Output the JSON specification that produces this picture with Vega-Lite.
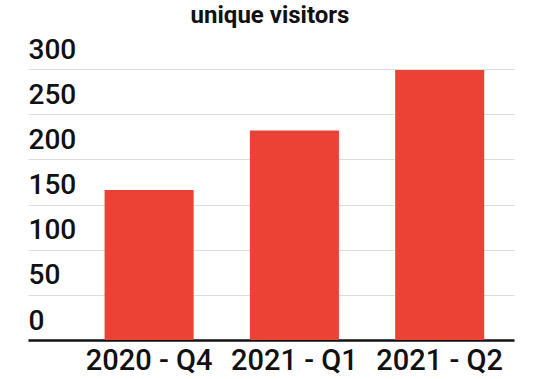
{
  "$schema": "https://vega.github.io/schema/vega-lite/v6.json",
  "autosize": "none",
  "width": 486,
  "height": 271,
  "padding": {"left": 28, "top": 69, "right": 25, "bottom": 39},
  "background": "white",
  "title": {
    "text": "unique visitors",
    "font": "Roboto",
    "fontSize": 24,
    "fontWeight": "bold",
    "color": "#111111",
    "anchor": "middle",
    "baseline": "alphabetic",
    "offset": -11,
    "dx": -1
  },
  "data": {
    "values": [
      {"quarter": "2020 - Q4", "visitors": 166},
      {"quarter": "2021 - Q1", "visitors": 232},
      {"quarter": "2021 - Q2", "visitors": 299}
    ]
  },
  "layer": [
    {
      "mark": {"type": "bar", "color": "#EA4335"},
      "encoding": {
        "x": {
          "field": "quarter",
          "type": "nominal",
          "sort": null,
          "scale": {"paddingInner": 0.387, "paddingOuter": 0.366, "align": 0.72},
          "axis": {
            "title": null,
            "labelAngle": 0,
            "labelFont": "Roboto",
            "labelFontSize": 29,
            "labelFontWeight": 500,
            "labelColor": "#111111",
            "labelPadding": 6,
            "ticks": false,
            "domainColor": "#111111",
            "domainWidth": 2.5,
            "grid": false
          }
        },
        "y": {
          "field": "visitors",
          "type": "quantitative",
          "scale": {"domain": [0, 300], "nice": false},
          "axis": {
            "title": null,
            "values": [0, 50, 100, 150, 200, 250, 300],
            "labelFont": "Roboto",
            "labelFontSize": 28,
            "labelFontWeight": 500,
            "labelColor": "#111111",
            "labelAlign": "left",
            "labelBaseline": "alphabetic",
            "labelOffset": -11,
            "labelPadding": 0,
            "ticks": false,
            "tickSize": 0,
            "domain": false,
            "grid": true,
            "gridColor": "#dddddd",
            "gridWidth": 1
          }
        }
      }
    }
  ],
  "config": {"view": {"stroke": null}}
}
